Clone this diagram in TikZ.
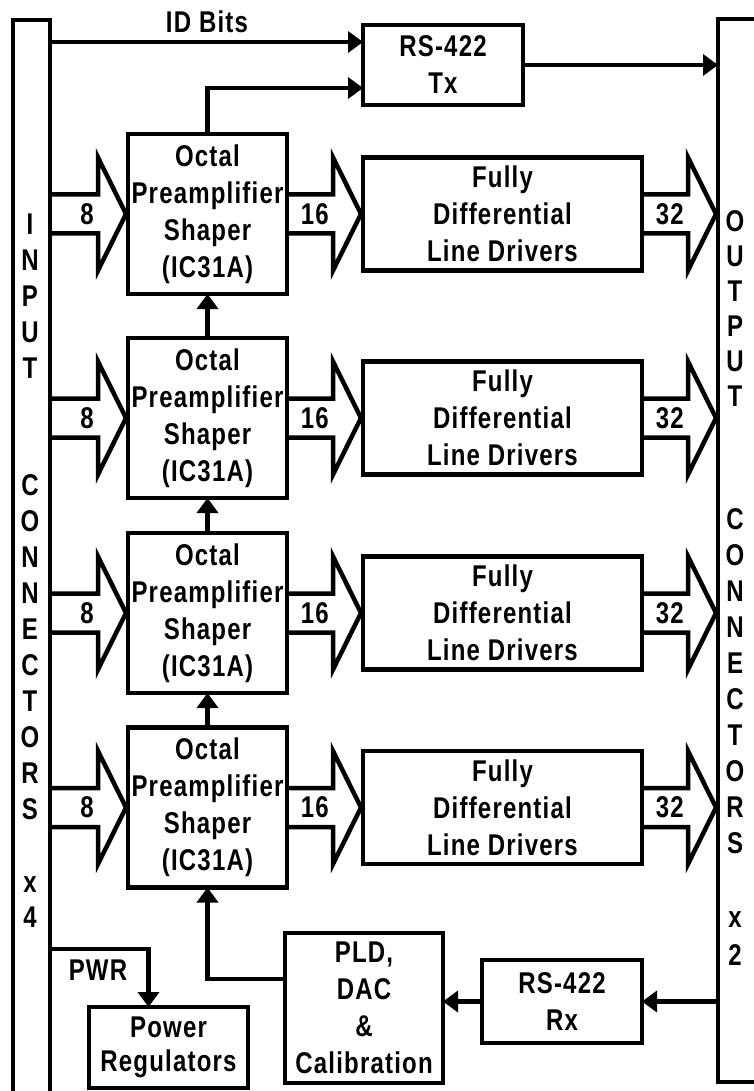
\documentclass[tikz,border=0pt]{standalone}
\usepackage{fontspec}
\setmainfont{Liberation Sans}[FakeStretch=0.8,LetterSpace=4]
\usetikzlibrary{arrows.meta,calc}
\newcommand\lbl{\bfseries\fontsize{30}{37}\selectfont}
\tikzset{
  box/.style={draw, line width=4.5pt, inner sep=0pt, outer sep=0pt, align=center, font=\lbl},
  conn/.style={line width=4.5pt, -{Triangle[length=15pt,width=21pt]}},
  blk/.style={line width=4.5pt, line join=miter},
  txt/.style={inner sep=0pt, font=\lbl},
}
% block arrow: #1 start (x used), #2 tip point, #3 label, #4 label name
\newcommand\blk[4]{%
  \draw[blk] let \p1=(#1), \p2=(#2) in
    (\x1,\y2+19.5pt) -- (\x2-30pt,\y2+19.5pt) -- (\x2-30pt,\y2+56.5pt)
    -- (\x2-2pt,\y2) -- (\x2-30pt,\y2-56.5pt) -- (\x2-30pt,\y2-19.5pt) -- (\x1,\y2-19.5pt)
    node[txt, anchor=east] (#4) at (\x2-32pt,\y2) {#3};}
\begin{document}
\begin{tikzpicture}[x=1pt,y=-1pt]
\useasboundingbox (0,0) rectangle (754,1091);
\clip (0,0) rectangle (754,1091);
% connector bars
\node[box, minimum width=37, minimum height=1100, anchor=north west] (inbar) at (13,20) {};
\node[box, minimum width=60, minimum height=1063, anchor=north west] (outbar) at (718,19) {};
% boxes
\node[box, minimum width=160, minimum height=80] (tx) at (443,65) {RS-422\\Tx};
\foreach \i/\y in {1/214,2/418,3/613,4/807.5} {
  \node[box, minimum width=159, minimum height=160] (pre\i) at (207.5,\y) {Octal\\Preamplifier\\Shaper\\(IC31A)};
  \node[box, minimum width=279, minimum height=113] (ld\i) at (502.5,\y) {Fully\\Differential\\Line Drivers};
}
\node[box, minimum width=158, minimum height=150] (pld) at (364,1008) {PLD,\\DAC\\\&\\Calibration};
\node[box, minimum width=160, minimum height=83] (rx) at (562,1001.5) {RS-422\\Rx};
\node[box, minimum width=159, minimum height=81] (pwr) at (168.5,1047.5) {Power\\[-3pt]Regulators};
% bar letters
\foreach \c [count=\k from 0] in {I,N,P,U,T} \node[txt] (inA\k) at (30,{224+36*\k}) {\c};
\foreach \c [count=\k from 0] in {C,O,N,N,E,C,T,O,R,S} \node[txt] (inB\k) at (30,{485+36*\k}) {\c};
\node[txt] (inx) at (30,885) {x};
\node[txt] (in4) at (30,917) {4};
\foreach \c [count=\k from 0] in {O,U,T,P,U,T} \node[txt] (outA\k) at (735,{221+35*\k}) {\c};
\foreach \c [count=\k from 0] in {C,O,N,N,E,C,T,O,R,S} \node[txt] (outB\k) at (735,{519+36*\k}) {\c};
\node[txt] (outx) at (735,920) {x};
\node[txt] (out2) at (735,955) {2};
% labels
\node[txt] (idbits) at (207,22) {ID Bits};
\node[txt] (pwrlbl) at (98,970) {PWR};
% connectors
\coordinate (txin1) at ($(tx.west)+(0,-23)$);
\coordinate (txin2) at ($(tx.west)+(0,23)$);
\draw[conn] (inbar.east |- txin1) -- (txin1);
\draw[conn] (pre1.north) |- (txin2);
\draw[conn] (tx.east) -- (tx.east -| outbar.west);
\foreach \a/\b in {2/1,3/2,4/3} \draw[conn] (pre\a.north) -- (pre\b.south);
\coordinate (pldout) at ($(pld.west)+(0,-29)$);
\draw[conn] (pldout) -| (pre4.south);
\draw[conn] (rx.east -| outbar.west) -- (rx.east);
\draw[conn] (rx.west) -- (rx.west -| pld.east);
\coordinate (pwrin) at ($(pwr.north)+(-20,0)$);
\draw[conn] (inbar.east |- 0,949) -| (pwrin);
% block arrows
\foreach \i in {1,...,4} {
  \blk{inbar.east}{pre\i.west}{8}{a\i}
  \blk{pre\i.east}{ld\i.west}{16}{b\i}
  \blk{ld\i.east}{outbar.west |- ld\i.east}{32}{c\i}
}
\end{tikzpicture}
\end{document}
